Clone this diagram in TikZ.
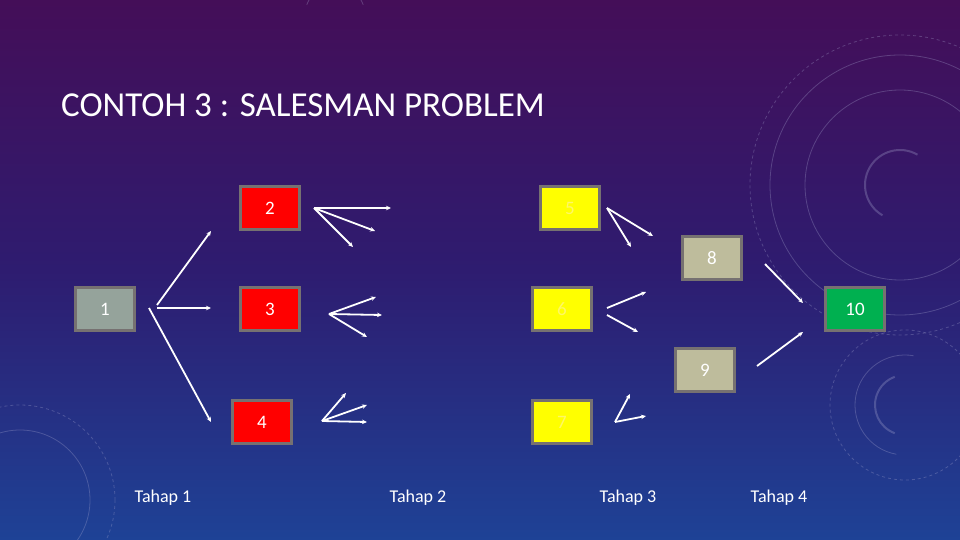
\documentclass[tikz,border=0pt]{standalone}
\usepackage{fontspec}
\setmainfont{Carlito}
\usetikzlibrary{arrows.meta}
\definecolor{bgtop}{RGB}{68,14,88}
\definecolor{bgmid}{RGB}{46,28,112}
\definecolor{bgbot}{RGB}{30,66,150}
\definecolor{boxline}{RGB}{118,113,113}
\definecolor{grayfill}{RGB}{149,163,155}
\definecolor{tanfill}{RGB}{190,188,156}
\definecolor{redfill}{RGB}{255,0,0}
\definecolor{yelfill}{RGB}{255,255,0}
\definecolor{grnfill}{RGB}{0,176,80}
\definecolor{deco}{RGB}{170,170,210}
\tikzset{
  cell/.style={draw=boxline, line width=3pt, minimum width=59pt, minimum height=43pt, inner sep=0pt, text=white, font=\fontsize{19}{21}\selectfont},
  redc/.style={cell, fill=redfill},
  yelc/.style={cell, fill=yelfill, text=yellow!60!white},
  grayc/.style={cell, fill=grayfill},
  tanc/.style={cell, fill=tanfill},
  grnc/.style={cell, fill=grnfill},
  arr/.style={draw=white, line width=1.8pt, -{Stealth[length=5pt,width=4.5pt]}},
  stage/.style={text=white, font=\fontsize{18}{20}\selectfont},
  decoline/.style={draw=deco, opacity=0.3, line width=0.8pt}
}
\begin{document}
\begin{tikzpicture}[x=1pt,y=-1pt]
\useasboundingbox (0,0) rectangle (960,540);
\shade[top color=bgtop, bottom color=bgbot, middle color=bgmid] (0,0) rectangle (960,540);
% decorations
\draw[decoline] (900,185) circle (130);
\draw[decoline] (900,185) circle (95);
\draw[decoline, line width=2pt] (900,185) ++(120:35) arc (120:300:35);
\draw[decoline, dashed] (900,185) circle (150);
\draw[decoline] (335,15) ++(200:30) arc (200:340:30);
\draw[decoline] (905,405) ++(100:50) arc (100:280:50);
\draw[decoline, line width=2pt] (905,405) ++(110:30) arc (110:250:30);
\draw[decoline, dashed] (905,405) circle (75);
\draw[decoline] (20,500) circle (70);
\draw[decoline, dashed] (20,500) circle (95);
% title
\node[anchor=west, text=white, font=\fontsize{35}{38}\selectfont, inner sep=0pt] (title) at (61,105) {CONTOH 3 : SALESMAN PROBLEM};
% boxes
\node[grayc] (n1) at (105,309) {1};
\node[redc] (n2) at (270,208) {2};
\node[redc] (n3) at (270,309) {3};
\node[redc] (n4) at (262,422) {4};
\node[yelc] (n5) at (570,208) {5};
\node[yelc] (n6) at (562,309) {6};
\node[yelc] (n7) at (562,422) {7};
\node[tanc] (n8) at (712,258) {8};
\node[tanc] (n9) at (705,370) {9};
\node[grnc] (n10) at (855,309) {10};
% coordinates for arrow ends
\coordinate (s1a) at (157,305);
\coordinate (s1b) at (157,308);
\coordinate (s1c) at (149,308);
\coordinate (e1a) at (211,231);
\coordinate (e1b) at (211,308);
\coordinate (e1c) at (211,422);
\coordinate (s2) at (314,208);
\coordinate (e2a) at (391,208);
\coordinate (e2b) at (375,231);
\coordinate (e2c) at (353,247);
\coordinate (s3) at (329,314);
\coordinate (e3a) at (376,297);
\coordinate (e3b) at (382,315);
\coordinate (e3c) at (367,337);
\coordinate (s4) at (322,421);
\coordinate (e4a) at (346,393);
\coordinate (e4b) at (367,405);
\coordinate (e4c) at (367,422);
\coordinate (s5) at (607,208);
\coordinate (e5a) at (653,236);
\coordinate (e5b) at (631,247);
\coordinate (s6a) at (607,308);
\coordinate (s6b) at (607,315);
\coordinate (e6a) at (646,292);
\coordinate (e6b) at (638,332);
\coordinate (s7) at (615,422);
\coordinate (e7a) at (630,394);
\coordinate (e7b) at (646,416);
\coordinate (s8) at (765,264);
\coordinate (e8) at (803,303);
\coordinate (s9) at (757,366);
\coordinate (e9) at (803,332);
% arrows
\draw[arr] (s1a) -- (e1a);
\draw[arr] (s1b) -- (e1b);
\draw[arr] (s1c) -- (e1c);
\draw[arr] (s2) -- (e2a);
\draw[arr] (s2) -- (e2b);
\draw[arr] (s2) -- (e2c);
\draw[arr] (s3) -- (e3a);
\draw[arr] (s3) -- (e3b);
\draw[arr] (s3) -- (e3c);
\draw[arr] (s4) -- (e4a);
\draw[arr] (s4) -- (e4b);
\draw[arr] (s4) -- (e4c);
\draw[arr] (s5) -- (e5a);
\draw[arr] (s5) -- (e5b);
\draw[arr] (s6a) -- (e6a);
\draw[arr] (s6b) -- (e6b);
\draw[arr] (s7) -- (e7a);
\draw[arr] (s7) -- (e7b);
\draw[arr] (s8) -- (e8);
\draw[arr] (s9) -- (e9);
% stage labels
\node[stage] (t1) at (163,498) {Tahap 1};
\node[stage] (t2) at (418,498) {Tahap 2};
\node[stage] (t3) at (628,498) {Tahap 3};
\node[stage] (t4) at (779,498) {Tahap 4};
\end{tikzpicture}
\end{document}
